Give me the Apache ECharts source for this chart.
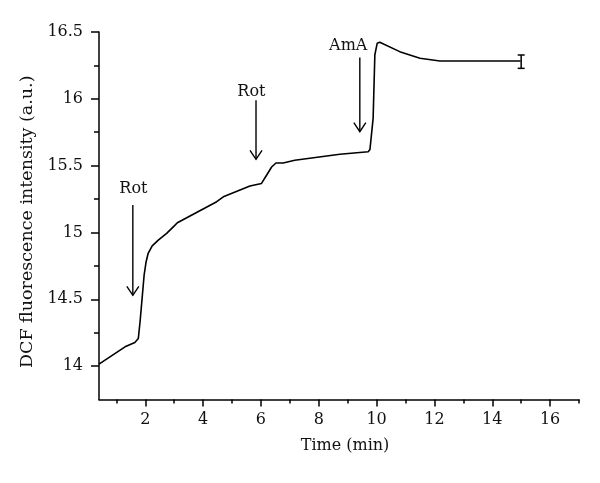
<!DOCTYPE html>
<html>
<head>
<meta charset="utf-8">
<script src="https://cdn.jsdelivr.net/npm/echarts@6/dist/echarts.min.js"></script>
<style>html,body{margin:0;padding:0;background:#fff}#c{width:600px;height:483px}</style>
</head>
<body>
<div id="c"></div>
<script>
// Trace: time (min) and DCF fluorescence intensity (a.u.)
var timeMin = [0.4, 1.30, 1.64, 1.76, 1.82, 1.88, 1.96, 2.03, 2.10, 2.24, 2.45, 2.74, 3.03, 3.11, 4.47, 4.70, 5.62, 6.02, 6.20, 6.37, 6.52, 6.77, 7.17, 8.73, 9.71, 9.77, 9.88, 9.94, 10.02, 10.11, 10.80, 11.50, 12.19, 14.98];
var dcf     = [14.015, 14.144, 14.177, 14.207, 14.332, 14.481, 14.68, 14.781, 14.844, 14.90, 14.943, 14.993, 15.055, 15.073, 15.23, 15.267, 15.347, 15.367, 15.43, 15.49, 15.52, 15.52, 15.54, 15.585, 15.604, 15.62, 15.854, 16.33, 16.415, 16.423, 16.353, 16.303, 16.283, 16.283];

// Error bar at end
var errTime = [15];
var errMean = [16.278];
var errSD   = [0.05];

// Annotations (arrows)
var annLabels  = ['Rot', 'Rot', 'AmA'];
var annTime    = [1.57, 5.83, 9.42];
var annTop     = [15.205, 15.99, 16.31];
var annTip     = [14.53, 15.547, 15.754];
var annTextT   = [1.59, 5.67, 9.02];
var annTextV   = [15.325, 16.05, 16.40];

// Axis ticks
var xMajor = [2, 4, 6, 8, 10, 12, 14, 16];
var xMinor = [1, 3, 5, 7, 9, 11, 13, 15, 17];
var yMajor = [14, 14.5, 15, 15.5, 16, 16.5];
var yMinor = [14.25, 14.75, 15.25, 15.75, 16.25];

var FONT = 'DejaVu Serif';
var chart = echarts.init(document.getElementById('c'));

var lineData = timeMin.map(function (t, i) { return [t, dcf[i]]; });
var errData = errTime.map(function (t, i) { return [t, errMean[i] - errSD[i], errMean[i] + errSD[i]]; });
var annData = annTime.map(function (t, i) { return [t, annTop[i], annTip[i], annTextT[i], annTextV[i]]; });

var axisLineStyle = { color: '#000', width: 1.5 };

chart.setOption({
  animation: false,
  grid: { left: 99, right: 21, top: 32, bottom: 83.5 },
  xAxis: [{
    type: 'value', min: 0.4, max: 17,
    name: 'Time (min)', nameLocation: 'middle', nameGap: 38,
    nameTextStyle: { fontFamily: FONT, fontSize: 16, color: '#111', padding: [0, 0, 0, 12] },
    axisLine: { show: true, onZero: false, lineStyle: axisLineStyle },
    axisTick: { show: true, length: 7, customValues: xMajor, lineStyle: { color: '#000', width: 1.5 } },
    axisLabel: { show: true, customValues: xMajor, margin: 12, fontFamily: FONT, fontSize: 16, color: '#111' },
    splitLine: { show: false }
  }, {
    type: 'value', min: 0.4, max: 17, position: 'bottom',
    axisLine: { show: false, onZero: false },
    axisTick: { show: true, length: 4, customValues: xMinor, lineStyle: { color: '#000', width: 1.5 } },
    axisLabel: { show: false },
    splitLine: { show: false }
  }],
  yAxis: [{
    type: 'value', min: 13.75, max: 16.5,
    name: 'DCF fluorescence intensity (a.u.)', nameLocation: 'middle', nameGap: 58, nameRotate: 90,
    nameTextStyle: { fontFamily: FONT, fontSize: 17.5, color: '#111', padding: [0, 12, 0, 0] },
    axisLine: { show: true, onZero: false, lineStyle: axisLineStyle },
    axisTick: { show: true, length: 8, customValues: yMajor, lineStyle: { color: '#000', width: 1.5 } },
    axisLabel: { show: true, customValues: yMajor, margin: 16, fontFamily: FONT, fontSize: 16, color: '#111' },
    splitLine: { show: false }
  }, {
    type: 'value', min: 13.75, max: 16.5, position: 'left',
    axisLine: { show: false, onZero: false },
    axisTick: { show: true, length: 5, customValues: yMinor, lineStyle: { color: '#000', width: 1.5 } },
    axisLabel: { show: false },
    splitLine: { show: false }
  }],
  series: [{
    type: 'line', data: lineData, showSymbol: false, symbol: 'none',
    lineStyle: { color: '#000', width: 1.6 }, xAxisIndex: 0, yAxisIndex: 0
  }, {
    type: 'custom', data: errData, xAxisIndex: 0, yAxisIndex: 0,
    encode: { x: 0, y: [1, 2] },
    renderItem: function (params, api) {
      var lo = api.coord([api.value(0), api.value(1)]);
      var hi = api.coord([api.value(0), api.value(2)]);
      var w = 3.5;
      var st = { stroke: '#000', lineWidth: 1.5, fill: null };
      return { type: 'group', children: [
        { type: 'line', shape: { x1: lo[0], y1: lo[1], x2: hi[0], y2: hi[1] }, style: st },
        { type: 'line', shape: { x1: lo[0] - w, y1: lo[1], x2: lo[0] + w, y2: lo[1] }, style: st },
        { type: 'line', shape: { x1: hi[0] - w, y1: hi[1], x2: hi[0] + w, y2: hi[1] }, style: st }
      ]};
    }
  }, {
    type: 'custom', data: annData, xAxisIndex: 0, yAxisIndex: 0,
    encode: { x: [0, 3], y: [1, 2, 4] },
    renderItem: function (params, api) {
      var top = api.coord([api.value(0), api.value(1)]);
      var tip = api.coord([api.value(0), api.value(2)]);
      var tp = api.coord([api.value(3), api.value(4)]);
      var st = { stroke: '#000', lineWidth: 1.4, fill: null };
      return { type: 'group', children: [
        { type: 'line', shape: { x1: top[0], y1: top[1], x2: tip[0], y2: tip[1] }, style: st },
        { type: 'polyline', shape: { points: [[tip[0] - 6, tip[1] - 9], [tip[0], tip[1]], [tip[0] + 6, tip[1] - 9]] }, style: st },
        { type: 'text', x: tp[0], y: tp[1], style: { text: annLabels[params.dataIndex], fontFamily: FONT, fontSize: 16, fill: '#111', align: 'center', verticalAlign: 'middle' } }
      ]};
    }
  }]
});
</script>
</body>
</html>
